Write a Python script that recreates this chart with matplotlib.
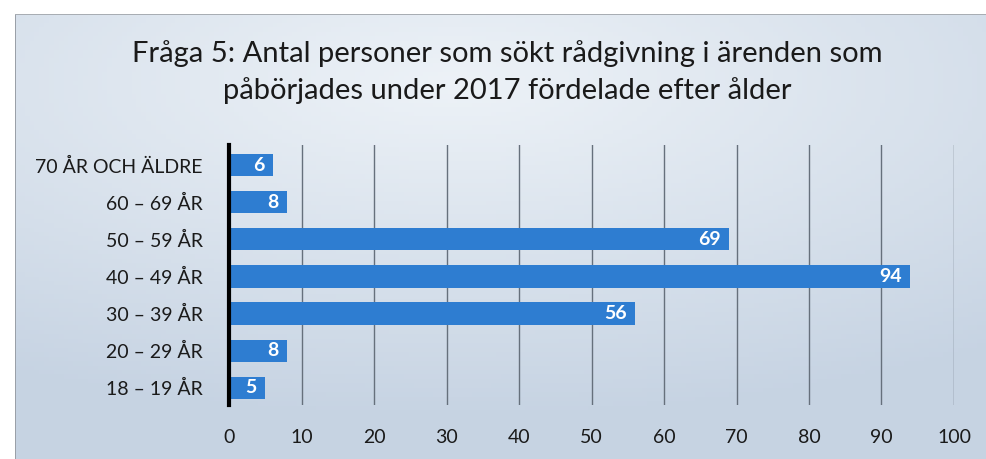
import numpy as np
import matplotlib
matplotlib.use("Agg")
import matplotlib.pyplot as plt
from matplotlib.patches import Rectangle

categories = ["18 – 19 ÅR", "20 – 29 ÅR", "30 – 39 ÅR", "40 – 49 ÅR",
              "50 – 59 ÅR", "60 – 69 ÅR", "70 ÅR OCH ÄLDRE"]
values = [5, 8, 56, 94, 69, 8, 6]
xticks = [0, 10, 20, 30, 40, 50, 60, 70, 80, 90, 100]
title = "Fråga 5: Antal personer som sökt rådgivning i ärenden som\npåbörjades under 2017 fördelade efter ålder"

plt.rcParams['font.family'] = ['Lato', 'DejaVu Sans']

W, H = 987, 459
fig = plt.figure(figsize=(W / 100, H / 100), dpi=100)
fig.patch.set_facecolor("white")

# background panel with soft gradient
bg = fig.add_axes([15 / W, 0, 1 - 15 / W, 1 - 14 / H])
yy, xx = np.mgrid[0:1:100j, 0:1:200j]
grad = np.sqrt(((xx - 0.45) * 1.0) ** 2 + ((yy - 0.15) * 1.2) ** 2)
c1 = np.array([0.93, 0.95, 0.97])
c2 = np.array([0.78, 0.83, 0.89])
img = c1[None, None, :] + (c2 - c1)[None, None, :] * np.clip(grad / 0.9, 0, 1)[:, :, None]
bg.imshow(img, aspect="auto", extent=[0, 1, 0, 1], origin="upper")
bg.set_axis_off()
fig.add_artist(Rectangle((15 / W, 0), 1.5 / W, 1 - 14 / H, transform=fig.transFigure,
                         color="#9aa0a8", lw=0))
fig.add_artist(Rectangle((15 / W, 1 - 15 / H), 1 - 15 / W, 1.2 / H, transform=fig.transFigure,
                         color="#a8adb3", lw=0))

ax = fig.add_axes([229 / W, (H - 405) / H, (954 - 229) / W, (405 - 145) / H])
ax.patch.set_alpha(0)

y = np.arange(len(categories))
ax.barh(y, values, height=0.6, color="#2e7dd1", zorder=3)
for yi, v in zip(y, values):
    ax.annotate(str(v), (v, yi), xytext=(-6, 0), textcoords="offset points",
                ha="right", va="center", color="white", fontsize=14,
                fontweight="bold", zorder=4)

ax.set_xlim(0, 100)
ax.set_ylim(-0.46, 6.54)
ax.set_xticks(xticks)
ax.set_xticklabels([str(t) for t in xticks])
ax.set_yticks(y)
ax.set_yticklabels(categories)
ax.tick_params(axis="x", length=0, pad=17, labelsize=14, labelcolor="#1a1a1a")
ax.tick_params(axis="y", length=0, pad=19, labelsize=14, labelcolor="#1a1a1a")
ax.grid(axis="x", color="#66707c", lw=1.0, zorder=1)
ax.set_axisbelow(True)
for s in ["top", "right", "bottom"]:
    ax.spines[s].set_visible(False)
ax.spines["left"].set_linewidth(3)
ax.spines["left"].set_color("black")
ax.spines["left"].set_zorder(5)

fig.text(507 / W, 1 - 72 / H, title, ha="center", va="center", fontsize=21,
         color="#1a1a1a", linespacing=1.45)

fig.savefig("out.png", dpi=100, facecolor=fig.get_facecolor())
